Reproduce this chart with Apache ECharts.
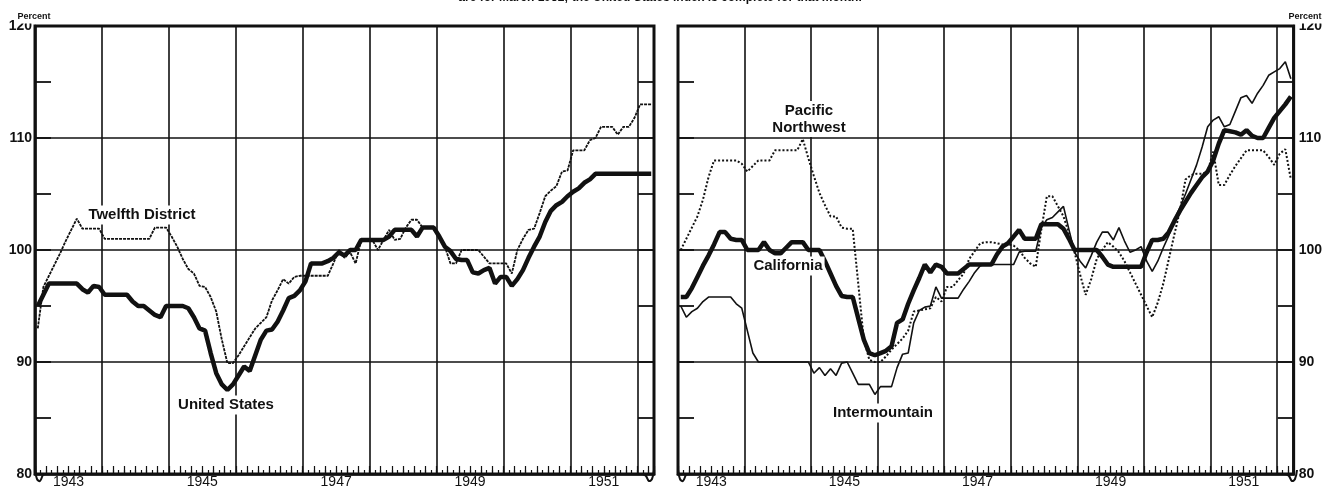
<!DOCTYPE html>
<html><head><meta charset="utf-8">
<script src="https://cdn.jsdelivr.net/npm/echarts@6/dist/echarts.min.js"></script>
<style>html,body{margin:0;padding:0;background:#fff}#c{width:1325px;height:492px}</style>
</head><body><div id="c"></div>
<script>
// Monthly index values, Jan 1943 .. Mar 1952 (111 months)
const yearLabels = ['1943', '1945', '1947', '1949', '1951'];
const yTickLabels = ['80', '90', '100', '110', '120'];
const headNote = 'are for March 1952; the United States index is complete for that month.';

const unitedStates = [
  95, 96, 97, 97, 97, 97, 97, 97, 96.5, 96.2, 96.8, 96.7,
  96, 96, 96, 96, 96, 95.4, 95, 95, 94.6, 94.2, 94, 95,
  95, 95, 95, 94.8, 94, 93, 92.8, 90.8, 89, 88, 87.5, 88,
  88.8, 89.6, 89.2, 90.6, 92, 92.8, 92.9, 93.6, 94.6, 95.7, 95.9, 96.4,
  97.2, 98.8, 98.8, 98.8, 99, 99.3, 99.8, 99.5, 100, 100, 100.9, 100.9,
  100.9, 100.9, 100.9, 101.2, 101.8, 101.8, 101.8, 101.8, 101.2, 102, 102, 102,
  101.2, 100.3, 99.9, 99.2, 99.1, 99.1, 98, 97.9, 98.2, 98.4, 97, 97.6,
  97.6, 96.8, 97.4, 98.2, 99.3, 100.3, 101.2, 102.5, 103.5, 104, 104.3, 104.8,
  105.2, 105.5, 106, 106.3, 106.8, 106.8, 106.8, 106.8, 106.8, 106.8, 106.8, 106.8,
  106.8, 106.8, 106.8
];
const twelfthDistrict = [
  93, 96.7, 97.7, 98.7, 99.7, 100.8, 101.8, 102.8, 101.9, 101.9, 101.9, 101.9,
  101, 101, 101, 101, 101, 101, 101, 101, 101, 102, 102, 102,
  101.2, 100.3, 99.2, 98.3, 97.9, 96.8, 96.7, 95.8, 94.5, 92, 89.9, 89.9,
  90.6, 91.4, 92.2, 93, 93.5, 94, 95.5, 96.4, 97.4, 97, 97.6, 97.7,
  97.7, 97.7, 97.7, 97.7, 97.7, 98.8, 100, 99.3, 99.8, 98.8, 100.9, 100.9,
  100.9, 100, 100.9, 101.8, 100.9, 101, 102, 102.7, 102.7, 102, 102, 102,
  101.3, 100.3, 98.8, 98.8, 100, 100, 100, 100, 99.4, 98.8, 98.8, 98.8,
  98.8, 97.9, 100, 101, 101.8, 101.9, 103.3, 104.8, 105.3, 105.7, 107, 107.1,
  108.9, 108.9, 108.9, 109.8, 110, 111, 111, 111, 110.3, 111, 111, 111.8,
  113, 113, 113
];
const california = [
  95.8, 95.8, 96.6, 97.6, 98.6, 99.5, 100.5, 101.6, 101.6, 101, 100.9, 100.9,
  100, 100, 100, 100.7, 100, 99.7, 99.7, 100.2, 100.7, 100.7, 100.7, 100,
  100, 100, 99, 97.9, 96.8, 95.9, 95.8, 95.8, 93.9, 92, 90.8, 90.6,
  90.8, 91, 91.4, 93.5, 93.8, 95.2, 96.4, 97.5, 98.7, 98, 98.7, 98.5,
  97.9, 97.9, 97.9, 98.3, 98.7, 98.7, 98.7, 98.7, 98.7, 99.6, 100.3, 100.6,
  101.2, 101.8, 101, 101, 101, 102.3, 102.3, 102.3, 102.3, 101.9, 101, 100,
  100, 100, 100, 100, 99.4, 98.7, 98.5, 98.5, 98.5, 98.5, 98.5, 98.5,
  99.8, 100.9, 100.9, 101, 101.6, 102.6, 103.5, 104.3, 105.1, 105.8, 106.5, 107,
  108, 109.5, 110.7, 110.6, 110.5, 110.3, 110.7, 110.2, 110, 110, 110.9, 111.8,
  112.4, 113, 113.7
];
const pacificNorthwest = [
  100, 101, 102, 103, 104.5, 106.5, 108, 108, 108, 108, 108, 107.7,
  107, 107.5, 108, 108, 108, 108.9, 108.9, 108.9, 108.9, 108.9, 109.9, 108.2,
  106.6, 105.1, 104, 103, 103, 102, 101.9, 101.9, 97, 92, 90.2, 90,
  90, 90.5, 91.1, 91.6, 92.1, 92.8, 94.5, 94.6, 94.7, 94.8, 95.8, 95.4,
  96.7, 96.7, 97.3, 97.9, 99.2, 99.9, 100.6, 100.7, 100.7, 100.6, 100.5, 100.5,
  100.4, 100, 99.3, 98.8, 98.5, 101.8, 104.8, 104.8, 103.9, 103, 101.5, 99.8,
  97.8, 96, 97.4, 99.2, 100, 100.7, 100.3, 99.8, 99, 98, 97, 96,
  95, 94, 95.3, 97, 99.2, 101.4, 103.5, 106.3, 106.7, 106.8, 106.8, 107,
  108.8, 105.8, 105.8, 106.7, 107.5, 108.2, 108.9, 108.9, 108.9, 108.9, 108.3, 107.6,
  108.6, 109, 106.3
];
const intermountain = [
  95, 94, 94.5, 94.8, 95.4, 95.8, 95.8, 95.8, 95.8, 95.8, 95.2, 94.8,
  92.8, 90.8, 90, 90, 90, 90, 90, 90, 90, 90, 90, 90,
  89, 89.5, 88.8, 89.4, 88.8, 89.9, 90, 89, 88, 88, 88, 87.1,
  87.8, 87.8, 87.8, 89.5, 90.7, 90.8, 93.5, 94.6, 94.9, 95, 96.7, 95.7,
  95.7, 95.7, 95.7, 96.5, 97.2, 98, 98.6, 98.7, 98.7, 98.7, 98.7, 98.7,
  98.7, 99.8, 99.9, 99.9, 99.9, 102, 102.7, 102.9, 103.4, 103.9, 101.8, 99.8,
  99, 98.4, 99.5, 100.7, 101.6, 101.6, 100.9, 102, 100.8, 99.8, 100, 100.3,
  99, 98.1, 99, 100.2, 101.3, 102.7, 103.8, 105, 106.3, 107.6, 109.2, 111,
  111.6, 111.9, 111, 111.2, 112.4, 113.6, 113.8, 113.1, 114, 114.7, 115.6, 115.9,
  116.2, 116.8, 115.3
];

const INK = '#111';
const FONT = 'Liberation Sans';
const N_MONTHS = 111;
const pairs = arr => arr.map((v, i) => [i + 0.5, v]);

const gridDefs = [
  { left: 35, side: 'left' },
  { left: 678, side: 'right' }
];

const grid = [], xAxis = [], yAxis = [];
gridDefs.forEach((g, gi) => {
  grid.push({ left: g.left, top: 26, width: 619, height: 448, show: true,
    borderColor: INK, borderWidth: 3, backgroundColor: 'transparent' });
  // year split lines
  xAxis.push({ gridIndex: gi, type: 'value', min: 0, max: N_MONTHS, interval: 12,
    axisLine: { show: false, onZero: false }, axisTick: { show: false }, axisLabel: { show: false },
    splitLine: { show: true, lineStyle: { color: INK, width: 1.6 } } });
  // monthly ticks + year labels
  xAxis.push({ gridIndex: gi, type: 'value', position: 'bottom', min: 0, max: N_MONTHS, interval: 1,
    axisLine: { show: true, onZero: false, lineStyle: { color: INK, width: 2.5 } },
    axisTick: { show: true, inside: true, length: 4, lineStyle: { color: INK, width: 1.2 } },
    axisLabel: { show: true, margin: 1, color: INK, fontFamily: FONT, fontSize: 14,
      formatter: v => { const k = (v - 6) / 24; return (Number.isInteger(k) && yearLabels[k]) ? yearLabels[k] : ''; } },
    splitLine: { show: false } });
  // bi-monthly longer ticks
  xAxis.push({ gridIndex: gi, type: 'value', position: 'bottom', min: 0, max: N_MONTHS, interval: 2,
    axisLine: { show: false, onZero: false },
    axisTick: { show: true, inside: true, length: 8, lineStyle: { color: INK, width: 1.2 } },
    axisLabel: { show: false }, splitLine: { show: false } });

  yAxis.push({ gridIndex: gi, type: 'value', position: g.side, min: 80, max: 120, interval: 10,
    axisLine: { show: true, onZero: false, lineStyle: { color: INK, width: 2.5 } },
    axisTick: { show: false },
    axisLabel: { show: true, margin: g.side === 'left' ? 3 : 5, color: INK, fontFamily: FONT, fontSize: 14, fontWeight: 'bold',
      formatter: v => yTickLabels[(v - 80) / 10] || '' },
    splitLine: { show: true, lineStyle: { color: INK, width: 1.6 } } });
  ['left', 'right'].forEach(pos => {
    yAxis.push({ gridIndex: gi, type: 'value', position: pos, min: 80, max: 120, interval: 5,
      axisLine: { show: false, onZero: false },
      axisTick: { show: true, inside: true, length: 16, lineStyle: { color: INK, width: 1.8 } },
      axisLabel: { show: false }, splitLine: { show: false } });
  });
});

function line(name, data, gi, style) {
  return { name, type: 'line', xAxisIndex: gi * 3, yAxisIndex: gi * 3, data: pairs(data),
    symbol: 'none', smooth: false, lineStyle: Object.assign({ color: INK }, style), z: style.width > 3 ? 4 : 3,
    silent: true, animation: false };
}

const series = [
  line('Twelfth District', twelfthDistrict, 0, { width: 1.8, type: [3, 1] }),
  line('United States', unitedStates, 0, { width: 4.5 }),
  line('Pacific Northwest', pacificNorthwest, 1, { width: 2, type: [2, 2] }),
  line('Intermountain', intermountain, 1, { width: 1.6 }),
  line('California', california, 1, { width: 4.5 })
];

function label(text, x, y, size, extra) {
  return Object.assign({ type: 'text', x, y, z: 100,
    style: { text, fill: INK, font: 'bold ' + size + 'px "' + FONT + '"', align: 'center', verticalAlign: 'middle',
      backgroundColor: '#fff', padding: [1, 2], lineHeight: size + 2 } }, extra || {});
}

const graphic = [
  label(headNote, 660, -2, 12, {}),
  label('Percent', 34, 17, 9),
  label('Percent', 1305, 17, 9),
  label('Twelfth District', 142, 215, 15),
  label('United States', 226, 405, 15),
  label('Pacific\nNorthwest', 809, 119, 15),
  label('California', 788, 266, 15),
  label('Intermountain', 883, 413, 15),
  // axis break marks at the bottom corners
  { type: 'polyline', z: 100, shape: { points: [[35, 470], [37, 479], [40, 481], [43, 475], [45, 474]], smooth: 0.4 }, style: { stroke: INK, lineWidth: 2, fill: null } },
  { type: 'polyline', z: 100, shape: { points: [[643, 474], [646, 476], [649, 481], [652, 479], [654, 470]], smooth: 0.4 }, style: { stroke: INK, lineWidth: 2, fill: null } },
  { type: 'polyline', z: 100, shape: { points: [[678, 470], [680, 479], [683, 481], [686, 475], [688, 474]], smooth: 0.4 }, style: { stroke: INK, lineWidth: 2, fill: null } },
  { type: 'polyline', z: 100, shape: { points: [[1286, 474], [1289, 476], [1292, 481], [1295, 479], [1297, 470]], smooth: 0.4 }, style: { stroke: INK, lineWidth: 2, fill: null } }
];

const chart = echarts.init(document.getElementById('c'), null, { renderer: 'canvas' });
chart.setOption({
  backgroundColor: '#fff',
  animation: false,
  textStyle: { fontFamily: FONT },
  grid, xAxis, yAxis, series, graphic
});
</script>
</body></html>
